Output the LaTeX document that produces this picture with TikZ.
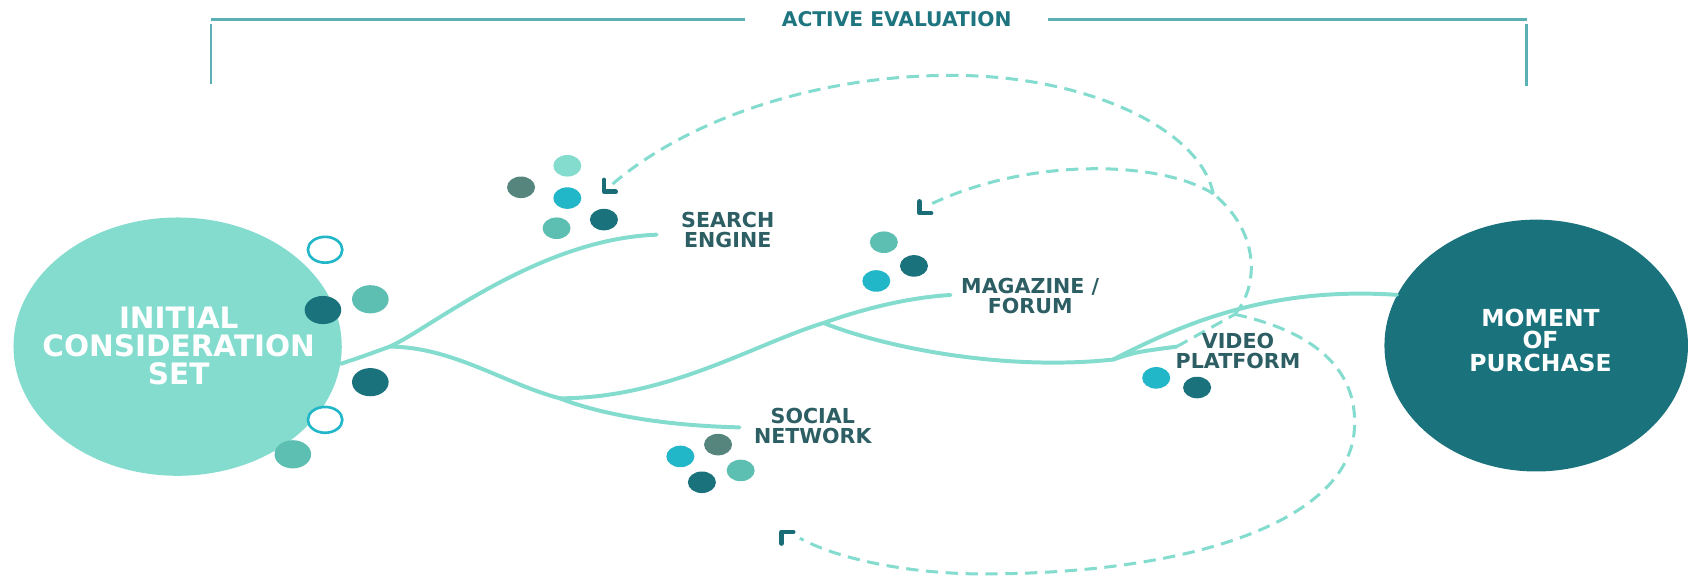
\documentclass[tikz,border=0pt]{standalone}
\usepackage{fontspec}
\setmainfont{DejaVu Sans}
\usetikzlibrary{shapes.geometric}

\begin{document}
\begin{tikzpicture}[x=0.02cm,y=-0.02cm,line cap=round,
	ast/.style={color=mint,line width=2.1pt},
	strich/.style={color=mint,line width=1.6pt,line cap=butt,dash pattern=on 6.5pt off 4pt},
	haken/.style={color=hakenfarbe,line width=2.3pt,line cap=round,line join=round},
	marke/.style={text=schrift,font=\fontsize{10.9}{10.5}\selectfont\bfseries,align=center,inner sep=0pt},
	klammer/.style={color=klammerfarbe,line width=1.5pt,line cap=butt}]

\definecolor{mint}{HTML}{84DCCF}
\definecolor{dunkel}{HTML}{1A737C}
\definecolor{zyan}{HTML}{21B6C8}
\definecolor{mittel}{HTML}{5CBFB2}
\definecolor{grau}{HTML}{55857D}
\definecolor{schrift}{HTML}{2C5E64}
\definecolor{hakenfarbe}{HTML}{1A6D76}
\definecolor{klammerfarbe}{HTML}{5BB0B6}
\definecolor{titelfarbe}{HTML}{1E7580}

\def\punkt#1#2#3{
	\fill[color=#2] #1 ellipse[x radius=#3,y radius={0.77*#3}];
}
\def\ring#1{
	\filldraw[fill=white,draw=zyan,line width=1.4pt] #1 ellipse[x radius=16,y radius=12];
}

\useasboundingbox (0,0) rectangle (1568,536);

% bracket
\node[inner sep=0pt,text=titelfarbe,font=\fontsize{10.7}{12}\selectfont\bfseries] (titel) at (833,18) {ACTIVE EVALUATION};
\coordinate (klL) at (196,18);
\coordinate (klR) at (1418,18);
\draw[klammer] (klL) -- ([xshift=-0.68cm]titel.west);
\draw[klammer] ([xshift=0.66cm]titel.east) -- (klR);
\draw[klammer] ([yshift=-0.08cm]klL) -- ++(0,56);
\draw[klammer] ([yshift=-0.08cm]klR) -- ++(0,58);

% the two sets
\node[ellipse,fill=mint,minimum width=6.1cm,minimum height=4.8cm,inner sep=0pt] (ics) at (165,322) {};
\node[text=white,font=\fontsize{15.6}{14.8}\selectfont\bfseries,align=center] (icstext) at (166,321) {INITIAL\\CONSIDERATION\\SET};
\node[ellipse,fill=dunkel,minimum width=5.64cm,minimum height=4.68cm,inner sep=0pt] (mop) at (1427,321) {};
\node[text=white,font=\fontsize{12.4}{12}\selectfont\bfseries,align=center] (moptext) at (1431,316) {MOMENT\\OF\\PURCHASE};

% branches
\coordinate (b1) at (362,322);
\coordinate (b2) at (520,370);
\coordinate (b3) at (765,300);
\coordinate (b4) at (1034,334);
\coordinate (se) at (610,218);
\coordinate (sn) at (687,397);
\coordinate (mf) at (883,274);
\coordinate (vp) at (1093,322);

\draw[ast] (ics.-6) .. controls (335,332) and (348,327) .. (b1)
	.. controls (400,305) and (500,222) .. (se);
\draw[ast] (b1) .. controls (420,322) and (470,357) .. (b2);
\draw[ast] (b2) .. controls (545,380) and (600,395) .. (sn);
\draw[ast] (b2) .. controls (620,370) and (700,320) .. (b3)
	.. controls (810,284) and (850,276) .. (mf);
\draw[ast] (b3) .. controls (820,322) and (930,345) .. (b4);
\draw[ast] (b4) .. controls (1100,300) and (1180,266) .. (mop.160);
\draw[ast] (b4) .. controls (1055,327) .. (vp);

% dashed feedback
\coordinate (j1) at (1147,292);
\coordinate (j2) at (1127,180);
\coordinate (sa) at (561,178);
\coordinate (ma) at (854,198);
\coordinate (na) at (726,494);

\draw[strich] (vp) -- (j1);
\draw[strich] (j1) .. controls (1170,265) and (1170,215) .. (j2);
\draw[strich] (j2) .. controls (1115,120) and (1010,70) .. (884,70)
	.. controls (760,70) and (640,110) .. (569,171);
\draw[strich] (j2) .. controls (1080,150) and (960,145) .. (866,189);
\draw[strich] (j1) .. controls (1230,310) and (1262,350) .. (1258,400)
	.. controls (1252,480) and (1120,530) .. (930,533)
	.. controls (850,535) and (780,520) .. (743,500);

\draw[haken] (sa) ++(0,-11) -- (sa) -- ++(11,0);
\draw[haken] (ma) ++(0,-11) -- (ma) -- ++(11,0);
\draw[haken] (na) ++(11,0) -- (na) -- ++(0,11);

% dots
\ring{(302,232)}
\ring{(302,390)}
\foreach \p/\c in {(300,288)/dunkel,(344,278)/mittel,(344,355)/dunkel,(272,422)/mittel}{
	\punkt{\p}{\c}{17}
}
\foreach \p/\c in {(527,154)/mint,(484,174)/grau,(527,184)/zyan,(561,204)/dunkel,(517,212)/mittel,
	(821,225)/mittel,(849,247)/dunkel,(814,261)/zyan,
	(1074,351)/zyan,(1112,360)/dunkel,
	(667,413)/grau,(632,424)/zyan,(688,437)/mittel,(652,448)/dunkel}{
	\punkt{\p}{\c}{13}
}

% labels
\node[marke] (such) at (676,214) {SEARCH\\ENGINE};
\node[marke] (mag) at (957,275) {MAGAZINE /\\FORUM};
\node[marke] (vid) at (1150,326) {VIDEO\\PLATFORM};
\node[marke] (soz) at (755,396) {SOCIAL\\NETWORK};

\end{tikzpicture}
\end{document}
